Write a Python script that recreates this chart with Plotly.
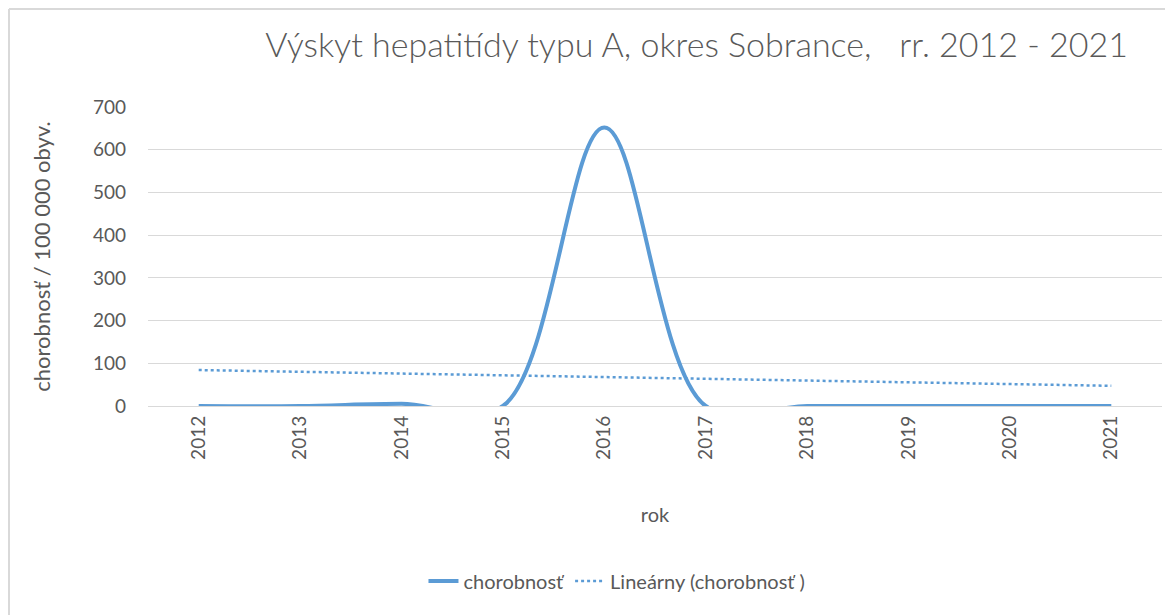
import numpy as np
import plotly.graph_objects as go

years = ["2012", "2013", "2014", "2015", "2016", "2017", "2018", "2019", "2020", "2021"]
chorobnost = [0, 0, 5, 0, 652, 0, 0, 0, 0, 0]
y_ticks = [0, 100, 200, 300, 400, 500, 600, 700]

# Linear trendline (as Excel computes it) from the data
xi = np.arange(1, len(years) + 1)
slope, intercept = np.polyfit(xi, chorobnost, 1)
trend = slope * xi + intercept

color = "#5B9BD5"
font_fam = "Lato, 'Open Sans', sans-serif"
gray = "#595959"
border = "#D9D9D9"

fig = go.Figure()
fig.add_trace(go.Scatter(
    x=years, y=chorobnost, mode="lines", name="chorobnosť",
    line=dict(color=color, width=4, shape="spline", smoothing=1.0),
))
fig.add_trace(go.Scatter(
    x=years, y=trend, mode="lines", name="Lineárny (chorobnosť )",
    line=dict(color=color, width=2.5, dash="dot"),
))

fig.update_layout(
    width=1165, height=607,
    margin=dict(l=140, r=11, t=99, b=209, autoexpand=False),
    paper_bgcolor="white", plot_bgcolor="white",
    font=dict(family=font_fam, color=gray, size=19),
    title=dict(text="Výskyt hepatitídy typu A, okres Sobrance,   rr. 2012 - 2021",
               x=0.591, xanchor="center", y=0.939, yanchor="middle",
               font=dict(size=34, color=gray, family=font_fam, weight=300)),
    xaxis=dict(type="category", tickangle=-90, showgrid=False, showline=False,
               ticks="", automargin=False, ticklabelstandoff=5,
               title=dict(text="rok", font=dict(size=20, color=gray), standoff=49),
               tickfont=dict(size=19, color=gray), range=[-0.5, 9.5]),
    yaxis=dict(range=[0, 700], tickvals=y_ticks, showgrid=True, gridcolor=border,
               gridwidth=1, zeroline=True, zerolinecolor=border, zerolinewidth=1,
               ticks="", automargin=False, ticklabelstandoff=21,
               tickfont=dict(size=19, color=gray),
               title=dict(text="chorobnosť / 100 000 obyv.", font=dict(size=22, color=gray), standoff=36)),
    legend=dict(orientation="h", x=0.4625, xanchor="center", y=-0.585, yanchor="middle",
                font=dict(size=20, color=gray)),
    showlegend=True,
    shapes=[
        dict(type="line", xref="paper", yref="paper", x0=-0.1371, x1=-0.1371,
             y0=-0.75, y1=1.3278, line=dict(color=border, width=2)),
        dict(type="line", xref="paper", yref="paper", x0=-0.1371, x1=1.02,
             y0=1.3278, y1=1.3278, line=dict(color=border, width=2)),
    ],
)

fig.write_html("out.html")
